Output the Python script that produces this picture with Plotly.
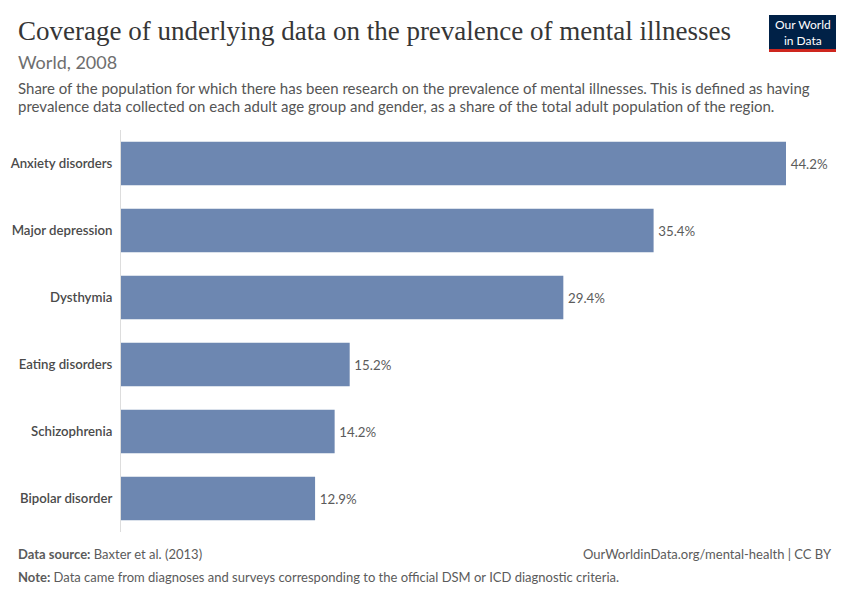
import plotly.graph_objects as go

illnesses = ["Anxiety disorders", "Major depression", "Dysthymia",
             "Eating disorders", "Schizophrenia", "Bipolar disorder"]
coverage = [44.2, 35.4, 29.4, 15.2, 14.2, 12.9]
value_labels = [f"{v:.1f}%" for v in coverage]

bar_color = "#6d87b1"
grey = "#5b5b5b"

# page body has an 8px margin, so the figure is drawn 8px in from the top-left
W, H = 842, 592
OFF = 8
ML, MR, MT, MB = 121 - OFF, 64, 130 - OFF, 68


def px(xv):
    return (xv - OFF - ML) / (W - ML - MR)


def py(yv):
    return (H - MB - (yv - OFF)) / (H - MT - MB)


fig = go.Figure(go.Bar(
    y=illnesses,
    x=coverage,
    orientation="h",
    marker=dict(color=bar_color, line=dict(width=0)),
    text=value_labels,
    texttemplate="\u2009%{text}",
    textposition="outside",
    textfont=dict(family="Lato", size=13.3, color=grey),
    cliponaxis=False,
    hoverinfo="skip",
))

fig.update_layout(
    width=W, height=H,
    margin=dict(l=ML, r=MR, t=MT, b=MB, autoexpand=False),
    paper_bgcolor="white",
    plot_bgcolor="white",
    bargap=0.35,
    showlegend=False,
    font=dict(family="Lato", color=grey),
    xaxis=dict(range=[0, 44.2], showgrid=False, zeroline=False,
               showticklabels=False, fixedrange=True),
    yaxis=dict(autorange="reversed", showline=True, linecolor="#dddddd",
               linewidth=1, ticks="", ticklabelstandoff=5,
               tickfont=dict(family="Lato", size=13.2, color="#4a4a4a",
                             weight=600)),
)

annotations = [
    dict(text="Coverage of underlying data on the prevalence of mental illnesses",
         x=16, y=31, font=dict(family="Liberation Serif", size=27, color="#363636")),
    dict(text="World, 2008", x=16, y=62,
         font=dict(family="Lato", size=18, color="#6e6e6e")),
    dict(text="Share of the population for which there has been research on the prevalence of mental illnesses. This is defined as having",
         x=16, y=88, font=dict(family="Lato", size=15, color="#555555")),
    dict(text="prevalence data collected on each adult age group and gender, as a share of the total adult population of the region.",
         x=16, y=106, font=dict(family="Lato", size=15, color="#555555")),
    dict(text="<b>Data source:</b> Baxter et al. (2013)", x=16, y=554,
         font=dict(family="Lato", size=13, color=grey)),
    dict(text="<b>Note:</b> Data came from diagnoses and surveys corresponding to the official DSM or ICD diagnostic criteria.",
         x=16, y=577, font=dict(family="Lato", size=13, color=grey)),
]
for a in annotations:
    fig.add_annotation(text=a["text"], x=px(a["x"]), y=py(a["y"]),
                       xref="paper", yref="paper", xanchor="left", yanchor="middle",
                       showarrow=False, font=a["font"])

fig.add_annotation(text="OurWorldinData.org/mental-health | CC BY",
                   x=px(834), y=py(554),
                   xref="paper", yref="paper", xanchor="right", yanchor="middle",
                   showarrow=False, font=dict(family="Lato", size=13, color=grey))

# logo
fig.add_shape(type="rect", xref="paper", yref="paper",
              x0=px(769), x1=px(836), y0=py(49), y1=py(15),
              fillcolor="#002147", line=dict(width=0))
fig.add_shape(type="rect", xref="paper", yref="paper",
              x0=px(769), x1=px(836), y0=py(52), y1=py(49),
              fillcolor="#ce261e", line=dict(width=0))
fig.add_annotation(text="Our World<br>in Data", x=px(802.5), y=py(32),
                   xref="paper", yref="paper", xanchor="center", yanchor="middle",
                   showarrow=False, align="center",
                   font=dict(family="Lato", size=12, color="white"))

fig.write_html("out.html")
